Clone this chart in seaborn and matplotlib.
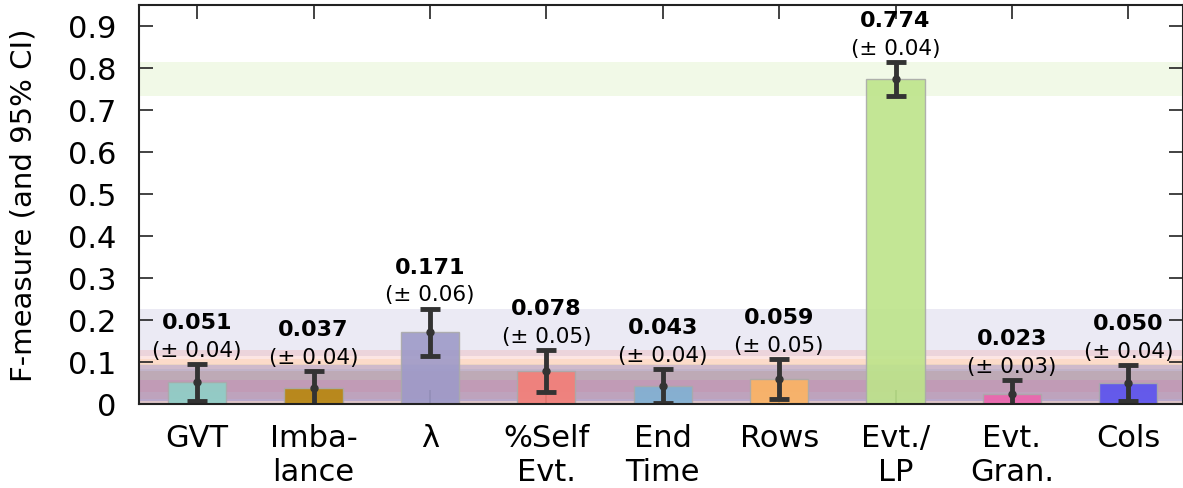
import numpy as np
import pandas as pd
import matplotlib
matplotlib.use('Agg')
from matplotlib import pyplot as plt
import seaborn as sns

# feature importance (F-measure) with 95% CI
features = ['GVT', 'Imba-\nlance', 'λ', '%Self\nEvt.', 'End\nTime', 'Rows', 'Evt./\nLP', 'Evt.\nGran.', 'Cols']
fmeasure = [0.051, 0.037, 0.171, 0.078, 0.043, 0.059, 0.774, 0.023, 0.050]
ci95 = [0.044, 0.042, 0.056, 0.050, 0.040, 0.048, 0.040, 0.033, 0.043]
colors = ['#8fcfc6', '#b8860b', '#9e9ac8', '#f47f77', '#80b1d3', '#fdb462', '#bde48a', '#ec64ad', '#5a52f0']

sns.set_style('ticks')
plt.rcParams['font.family'] = ['DejaVu Sans']
plt.rcParams['text.color'] = 'black'
plt.rcParams['xtick.labelcolor'] = 'black'
plt.rcParams['ytick.labelcolor'] = 'black'
plt.rcParams['axes.labelcolor'] = 'black'

df = pd.DataFrame({'feature': features, 'f': fmeasure, 'ci': ci95})

fig = plt.figure(figsize=(11.83, 4.89), dpi=100)
ax = fig.add_axes([0.1175, 0.172, 0.8825, 0.816])

# CI bands across the whole plot
for i in range(len(df)):
    lo = max(df.f[i] - df.ci[i], 0)
    hi = df.f[i] + df.ci[i]
    ax.axhspan(lo, hi, color=colors[i], alpha=0.2, lw=0, zorder=0)

sns.barplot(data=df, x='feature', y='f', hue='feature', palette=colors, legend=False, saturation=1,
            width=0.5, edgecolor='#aaaaaa', linewidth=1.0, alpha=0.9, errorbar=None, ax=ax, zorder=2)

ax.errorbar(np.arange(len(df)), df.f, yerr=df.ci, fmt='o', color='#333333', ms=5,
            elinewidth=3.5, capsize=7.5, capthick=3.5, zorder=4)

for i in range(len(df)):
    top = df.f[i] + df.ci[i]
    ax.annotate('(± %.2f)' % df.ci[i], (i, top), xytext=(0, 3), textcoords='offset points',
                ha='center', va='bottom', fontsize=15.5, zorder=5)
    ax.annotate('%.3f' % df.f[i], (i, top), xytext=(0, 23), textcoords='offset points',
                ha='center', va='bottom', fontsize=16, fontweight='bold', zorder=5)

ax.set_xlim(-0.5, 8.47)
ax.set_ylim(0, 0.95)
ax.set_yticks(np.arange(0, 0.95, 0.1))
ax.set_yticklabels(['0'] + ['%.1f' % v for v in np.arange(0.1, 0.95, 0.1)])
ax.set_xlabel('')
ax.set_ylabel('F-measure (and 95% CI)', fontsize=21, labelpad=22)

ax.tick_params(axis='both', direction='in', length=10, width=1.2, color='#222222',
               labelsize=22, top=True, right=True, pad=16)
ax.tick_params(axis='x', pad=14)
for s in ax.spines.values():
    s.set_linewidth(1.5)
    s.set_color('#222222')
    s.set_zorder(6)

plt.savefig('out.png', dpi=100)
